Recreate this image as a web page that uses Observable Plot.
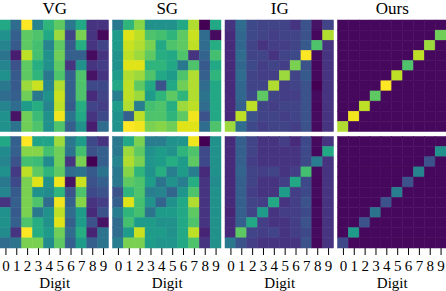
<!DOCTYPE html>
<html><head><meta charset="utf-8">
<script src="https://cdn.jsdelivr.net/npm/d3@7"></script>
<script src="https://cdn.jsdelivr.net/npm/@observablehq/plot@0.6"></script>
<style>body{margin:0;background:#fff}</style>
</head><body><div id="chart"></div>
<script>
const methods = ["VG", "SG", "IG", "Ours"];
const groups = ["top", "bottom"];
const digits = [0, 1, 2, 3, 4, 5, 6, 7, 8, 9];
const rowIds = [0, 1, 2, 3, 4, 5, 6, 7, 8, 9, 10];

const vgTop = [
  [0.60,0.35,1.00,0.45,0.65,0.75,0.40,0.60,0.15,0.15],
  [0.50,0.30,0.75,0.72,0.60,0.85,0.20,0.80,0.15,0.02],
  [0.45,0.28,0.75,0.70,0.45,0.75,0.28,0.62,0.15,0.20],
  [0.38,0.08,0.90,0.70,0.50,0.78,0.30,0.30,0.03,0.15],
  [0.45,0.25,0.75,0.62,0.50,0.75,0.15,0.50,0.15,0.18],
  [0.50,0.28,0.75,0.65,0.40,0.72,0.30,0.72,0.05,0.15],
  [0.40,0.28,0.85,0.92,0.45,0.88,0.30,0.72,0.22,0.22],
  [0.35,0.30,0.78,0.40,0.50,0.92,0.30,0.72,0.12,0.20],
  [0.45,0.35,0.55,0.62,0.45,0.90,0.28,0.62,0.20,0.18],
  [0.50,0.05,0.78,0.68,0.50,0.98,0.38,0.60,0.15,0.22],
  [0.50,0.38,0.78,0.72,0.50,0.72,0.30,0.50,0.08,0.35]
];
const sgTop = [
  [0.40,0.65,0.82,0.50,0.50,0.50,0.60,0.88,0.00,0.60],
  [0.55,0.95,0.90,0.72,0.70,0.65,0.75,0.92,0.35,0.03],
  [0.55,0.92,0.88,0.80,0.60,0.72,0.75,0.90,0.35,0.62],
  [0.50,0.90,0.85,0.75,0.62,0.60,0.72,0.15,0.32,0.70],
  [0.50,0.95,0.95,0.65,0.65,0.60,0.40,0.72,0.28,0.60],
  [0.55,0.88,0.85,0.72,0.60,0.55,0.72,0.88,0.30,0.65],
  [0.60,0.90,0.75,0.60,0.25,0.60,0.78,0.88,0.35,0.60],
  [0.42,0.90,0.85,0.55,0.65,0.75,0.65,0.88,0.38,0.60],
  [0.55,0.88,0.42,0.70,0.72,0.62,0.85,0.90,0.35,0.60],
  [0.50,0.30,0.90,0.72,0.72,0.65,0.75,0.98,0.25,0.60],
  [0.50,1.00,0.98,0.80,0.82,0.78,0.95,0.95,0.35,0.72]
];
const igTop = [
  [0.15,0.35,0.22,0.20,0.20,0.20,0.15,0.25,0.05,0.20],
  [0.12,0.33,0.22,0.20,0.18,0.20,0.20,0.25,0.02,0.88],
  [0.12,0.33,0.20,0.15,0.18,0.18,0.20,0.28,0.72,0.15],
  [0.12,0.35,0.20,0.20,0.15,0.20,0.22,1.00,0.03,0.15],
  [0.12,0.33,0.22,0.18,0.20,0.18,0.80,0.25,0.02,0.15],
  [0.12,0.35,0.20,0.18,0.18,0.85,0.20,0.28,0.02,0.15],
  [0.12,0.33,0.20,0.20,0.88,0.18,0.20,0.25,0.00,0.15],
  [0.12,0.33,0.22,0.75,0.20,0.18,0.18,0.25,0.03,0.15],
  [0.12,0.30,0.90,0.20,0.18,0.20,0.20,0.25,0.02,0.15],
  [0.12,0.90,0.25,0.20,0.20,0.18,0.20,0.25,0.03,0.15],
  [0.85,0.35,0.22,0.18,0.20,0.20,0.18,0.25,0.03,0.15]
];
const oursTop = [
  [0.02,0.02,0.02,0.02,0.02,0.02,0.02,0.02,0.02,0.02],
  [0.02,0.02,0.02,0.02,0.02,0.02,0.02,0.02,0.02,0.78],
  [0.02,0.02,0.02,0.02,0.02,0.02,0.02,0.02,0.85,0.02],
  [0.02,0.02,0.02,0.02,0.02,0.02,0.02,0.90,0.02,0.02],
  [0.02,0.02,0.02,0.02,0.02,0.02,0.72,0.02,0.02,0.02],
  [0.02,0.02,0.02,0.02,0.02,0.90,0.02,0.02,0.02,0.02],
  [0.02,0.02,0.02,0.02,1.00,0.02,0.02,0.02,0.02,0.02],
  [0.02,0.02,0.02,0.75,0.02,0.02,0.02,0.02,0.02,0.02],
  [0.02,0.02,0.90,0.02,0.02,0.02,0.02,0.02,0.02,0.02],
  [0.02,0.98,0.02,0.02,0.02,0.02,0.02,0.02,0.02,0.02],
  [0.88,0.02,0.02,0.02,0.02,0.02,0.02,0.02,0.02,0.02]
];
const vgBottom = [
  [0.60,0.30,1.00,0.58,0.58,0.85,0.40,0.55,0.22,0.15],
  [0.48,0.30,0.82,0.82,0.70,0.78,0.38,0.70,0.25,0.30],
  [0.45,0.25,0.70,0.68,0.48,0.78,0.15,0.80,0.00,0.30],
  [0.50,0.17,0.90,0.75,0.65,0.75,0.35,0.38,0.28,0.38],
  [0.40,0.22,0.80,0.95,0.50,0.98,0.05,0.92,0.25,0.30],
  [0.45,0.28,0.80,0.50,0.48,0.65,0.25,0.72,0.22,0.25],
  [0.15,0.30,0.80,0.72,0.35,0.98,0.30,0.82,0.15,0.18],
  [0.50,0.28,0.80,0.40,0.50,0.90,0.35,0.55,0.12,0.25],
  [0.50,0.30,0.72,0.62,0.50,0.95,0.30,0.55,0.25,0.05],
  [0.48,0.15,1.00,0.62,0.55,0.78,0.35,0.62,0.10,0.38],
  [0.35,0.38,0.80,0.80,0.48,0.75,0.30,0.55,0.30,0.38]
];
const sgBottom = [
  [0.40,0.60,0.80,0.42,0.42,0.50,0.52,0.98,0.00,0.50],
  [0.40,0.85,0.75,0.50,0.55,0.50,0.65,0.72,0.22,0.50],
  [0.45,0.88,0.80,0.52,0.55,0.62,0.55,0.75,0.22,0.50],
  [0.40,0.82,0.65,0.50,0.62,0.42,0.55,0.42,0.12,0.50],
  [0.40,0.75,0.72,0.55,0.38,0.50,0.42,0.62,0.15,0.48],
  [0.25,0.65,0.72,0.42,0.45,0.32,0.52,0.72,0.15,0.50],
  [0.30,0.95,0.70,0.50,0.32,0.50,0.60,0.88,0.15,0.50],
  [0.42,0.65,0.70,0.38,0.55,0.55,0.60,0.75,0.15,0.50],
  [0.35,0.70,0.55,0.55,0.50,0.50,0.60,0.72,0.15,0.50],
  [0.35,0.55,0.92,0.55,0.55,0.50,0.60,0.90,0.10,0.50],
  [0.42,0.80,0.80,0.55,0.52,0.52,0.60,0.72,0.15,0.50]
];
const igBottom = [
  [0.12,0.30,0.20,0.15,0.15,0.18,0.12,0.22,0.03,0.15],
  [0.12,0.30,0.20,0.15,0.15,0.15,0.15,0.22,0.02,0.60],
  [0.12,0.30,0.18,0.15,0.15,0.15,0.15,0.22,0.42,0.15],
  [0.12,0.32,0.20,0.18,0.20,0.15,0.18,0.70,0.03,0.15],
  [0.12,0.30,0.20,0.15,0.15,0.18,0.60,0.22,0.02,0.15],
  [0.12,0.30,0.18,0.15,0.15,0.55,0.18,0.22,0.03,0.15],
  [0.12,0.30,0.20,0.18,0.60,0.15,0.18,0.25,0.02,0.15],
  [0.10,0.30,0.20,0.55,0.15,0.18,0.18,0.22,0.03,0.15],
  [0.12,0.30,0.60,0.18,0.15,0.15,0.18,0.25,0.02,0.15],
  [0.12,0.75,0.20,0.18,0.20,0.15,0.18,0.22,0.03,0.15],
  [0.40,0.25,0.18,0.15,0.15,0.15,0.15,0.25,0.02,0.15]
];
const oursBottom = [
  [0.02,0.02,0.02,0.02,0.02,0.02,0.02,0.02,0.02,0.02],
  [0.02,0.02,0.02,0.02,0.02,0.02,0.02,0.02,0.02,0.50],
  [0.02,0.02,0.02,0.02,0.02,0.02,0.02,0.02,0.25,0.02],
  [0.02,0.02,0.02,0.02,0.02,0.02,0.02,0.45,0.02,0.02],
  [0.02,0.02,0.02,0.02,0.02,0.02,0.25,0.02,0.02,0.02],
  [0.02,0.02,0.02,0.02,0.02,0.42,0.02,0.02,0.02,0.02],
  [0.02,0.02,0.02,0.02,0.25,0.02,0.02,0.02,0.02,0.02],
  [0.02,0.02,0.02,0.38,0.02,0.02,0.02,0.02,0.02,0.02],
  [0.02,0.02,0.25,0.02,0.02,0.02,0.02,0.02,0.02,0.02],
  [0.02,0.55,0.02,0.02,0.02,0.02,0.02,0.02,0.02,0.02],
  [0.22,0.02,0.02,0.02,0.02,0.02,0.02,0.02,0.02,0.02]
];

const matrices = {
  top: {VG: vgTop, SG: sgTop, IG: igTop, Ours: oursTop},
  bottom: {VG: vgBottom, SG: sgBottom, IG: igBottom, Ours: oursBottom}
};
const cells = [];
for (const g of groups) for (const m of methods) {
  matrices[g][m].forEach((row, r) => row.forEach((v, c) => {
    cells.push({group: g, method: m, row: rowIds[r], col: digits[c], value: v});
  }));
}

const chart = Plot.plot({
  width: 446, height: 291,
  marginTop: 20, marginBottom: 43, marginLeft: 0, marginRight: 0,
  style: {fontFamily: "'Liberation Serif', serif", fontSize: "15px", background: "white", color: "black"},
  fx: {domain: methods, axis: null, paddingInner: 0.0356, paddingOuter: 0, round: false},
  fy: {domain: groups, axis: null, paddingInner: 0.0429, paddingOuter: 0, round: false},
  x: {type: "band", domain: digits, padding: 0, round: false, tickSize: 7, tickPadding: 5, label: null},
  y: {type: "band", domain: rowIds, padding: 0, round: false, axis: null},
  color: {type: "linear", scheme: "viridis", domain: [0, 1]},
  marks: [
    Plot.cell(cells, {x: "col", y: "row", fx: "method", fy: "group", fill: "value", stroke: "value", strokeWidth: 0.5, inset: 0}),
    Plot.text(methods, {fx: d => d, fy: () => "top", text: d => d, frameAnchor: "top", lineAnchor: "bottom", dy: -7, fontSize: 17}),
    Plot.text(methods, {fx: d => d, fy: () => "bottom", text: () => "Digit", frameAnchor: "bottom", lineAnchor: "bottom", dy: 39, fontSize: 15})
  ]
});
document.getElementById("chart").appendChild(chart);
</script>
</body></html>
